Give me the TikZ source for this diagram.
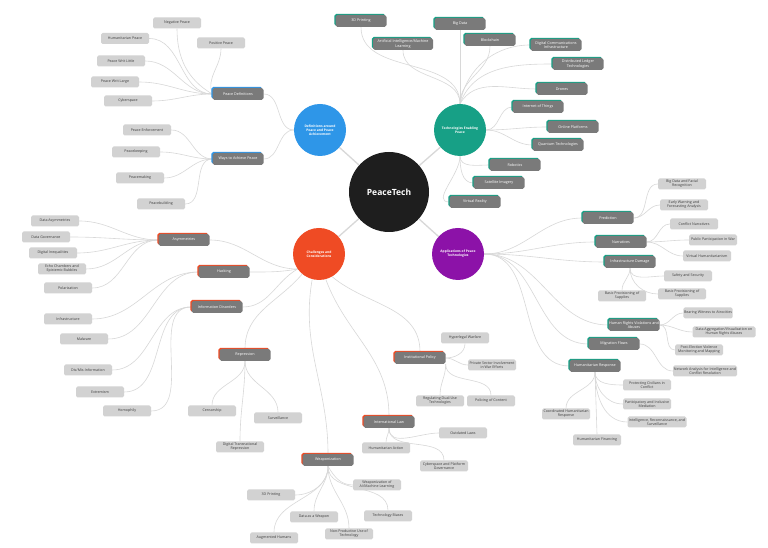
\documentclass[tikz,border=0pt]{standalone}
\usepackage{fontspec}
\setmainfont{Open Sans}
\usetikzlibrary{shadows,backgrounds}
\definecolor{lbox}{HTML}{D2D2D2}
\definecolor{dbox}{HTML}{7A7A7A}
\definecolor{ltxt}{HTML}{3C3C3C}
\definecolor{conn}{HTML}{D8D8D8}
\definecolor{cblue}{HTML}{2E96E8}
\definecolor{cgreen}{HTML}{17A086}
\definecolor{cred}{HTML}{EF4B24}
\definecolor{cpurple}{HTML}{8C12A8}
\definecolor{cblack}{HTML}{1E1E1E}
\tikzset{
 lite/.style={rectangle, rounded corners=1.6pt, fill=lbox, text=ltxt, minimum width=48pt, minimum height=11pt, inner sep=0.6pt, align=center, font=\fontsize{3.6}{4.1}\selectfont},
 darkbox/.style={rectangle, rounded corners=1.8pt, fill=dbox, text=white, minimum width=51pt, minimum height=12pt, inner sep=0.6pt, align=center, font=\fontsize{3.7}{4.2}\selectfont, general shadow={fill=#1, shadow xshift=-1.1pt, shadow yshift=1.1pt}},
 hub/.style={circle, fill=#1, text=white, minimum size=52pt, inner sep=0pt, align=center, font=\bfseries\fontsize{3.3}{4.0}\selectfont},
 lnk/.style={draw=conn, line width=0.6pt},
 trunk/.style={draw=conn, line width=1.3pt},
}
\begin{document}
\begin{tikzpicture}[x=1pt,y=1pt]
\begin{scope}[on background layer]
\fill[white] (0,0) rectangle (768,548);
\end{scope}
\useasboundingbox (0,0) rectangle (768,548);
% hubs
\node[circle, fill=cblack, text=white, minimum size=80pt, inner sep=0pt, font=\bfseries\fontsize{8.5}{10}\selectfont] (pt) at (389,356) {PeaceTech};
\node[hub=cblue] (blue) at (320,418) {Definitions around\\Peace and Peace\\Achievement};
\node[hub=cgreen] (green) at (460,418) {Technologies Enabling\\Peace};
\node[hub=cred] (red) at (319,294) {Challenges and\\Considerations};
\node[hub=cpurple] (purple) at (458,294) {Applications of Peace\\Technologies};
% blue branch
\node[darkbox=cblue] (pdef) at (238,454) {Peace Definitions};
\node[darkbox=cblue] (ways) at (238,389) {Ways to Achieve Peace};
\node[lite] (negp) at (177,525) {Negative Peace};
\node[lite] (hump) at (125,509.5) {Humanitarian Peace};
\node[lite] (posp) at (221,505) {Positive Peace};
\node[lite] (pwl) at (121,487) {Peace Writ Little};
\node[lite] (pwlarge) at (115,466) {Peace Writ Large};
\node[lite] (cyber) at (128,447) {Cyberspace};
\node[lite] (penf) at (147,418) {Peace Enforcement};
\node[lite] (pkeep) at (136,396) {Peacekeeping};
\node[lite] (pmake) at (140,370) {Peacemaking};
\node[lite] (pbuild) at (161,344) {Peacebuilding};
% green branch
\node[darkbox=cgreen] (g3d) at (361,527) {3D Printing};
\node[darkbox=cgreen, minimum width=60pt] (gai) at (403,504) {Artificial Intelligence/Machine\\Learning};
\node[darkbox=cgreen] (gbig) at (460,524) {Big Data};
\node[darkbox=cgreen] (gblock) at (490,508) {Blockchain};
\node[darkbox=cgreen] (gdci) at (556,503) {Digital Communications\\Infrastructure};
\node[darkbox=cgreen] (gdlt) at (578,484) {Distributed Ledger\\Technologies};
\node[darkbox=cgreen] (gdrone) at (562,459) {Drones};
\node[darkbox=cgreen] (giot) at (538,441) {Internet of Things};
\node[darkbox=cgreen] (gonline) at (573,421) {Online Platforms};
\node[darkbox=cgreen] (gquant) at (558,403) {Quantum Technologies};
\node[darkbox=cgreen] (grobot) at (515,383) {Robotics};
\node[darkbox=cgreen] (gsat) at (499,365) {Satellite Imagery};
\node[darkbox=cgreen] (gvr) at (475,346) {Virtual Reality};
% red branch
\node[darkbox=cred] (asym) at (184,308) {Asymmetries};
\node[darkbox=cred] (hack) at (224,276) {Hacking};
\node[darkbox=cred] (infod) at (217,241) {Information Disorders};
\node[darkbox=cred] (repr) at (245,193) {Repression};
\node[darkbox=cred] (inst) at (420,190) {Institutional Policy};
\node[darkbox=cred] (intl) at (389,126) {International Law};
\node[darkbox=cred] (weap) at (328,88) {Weaponization};
\node[lite] (dasym) at (55,327) {Data Asymmetries};
\node[lite] (dgov) at (46,311) {Data Governance};
\node[lite] (dineq) at (53,295) {Digital Inequalities};
\node[lite] (echo) at (62,279) {Echo Chambers and\\Epistemic Bubbles};
\node[lite] (polar) at (68,260) {Polarization};
\node[lite] (infra) at (68,229) {Infrastructure};
\node[lite] (malw) at (84,209) {Malware};
\node[lite] (dismis) at (88,178) {Dis/Mis-Information};
\node[lite] (extr) at (100,156) {Extremism};
\node[lite] (homo) at (127,137) {Homophily};
\node[lite] (cens) at (212,137) {Censorship};
\node[lite] (surv) at (278,130) {Surveillance};
\node[lite] (dtr) at (240,101) {Digital Transnational\\Repression};
\node[lite] (hyper) at (465,210) {Hyperlegal Warfare};
\node[lite] (priv) at (492,183) {Private Sector Involvement\\in War Efforts};
\node[lite] (regul) at (440,147) {Regulating Dual-Use\\Technologies};
\node[lite] (polic) at (491,147) {Policing of Content};
\node[lite] (outd) at (463,115) {Outdated Laws};
\node[lite] (humact) at (386,100) {Humanitarian Action};
\node[lite] (cyberg) at (444,82) {Cyberspace and Platform\\Governance};
\node[lite] (w3d) at (271,53) {3D Printing};
\node[lite] (wai) at (377,63) {Weaponization of\\AI/Machine Learning};
\node[lite] (wdata) at (314,31) {Data as a Weapon};
\node[lite] (wbias) at (388,32) {Technology Biases};
\node[lite] (waug) at (274,10) {Augmented Humans};
\node[lite] (wnon) at (349,14) {Non-Productive Use of\\Technology};
% purple branch
\node[darkbox=cgreen] (pred) at (608,330) {Prediction};
\node[darkbox=cgreen] (narr) at (621,306) {Narratives};
\node[darkbox=cgreen] (infd) at (630,286) {Infrastructure Damage};
\node[darkbox=cgreen] (hrv) at (634,223) {Human Rights Violations and\\Abuses};
\node[darkbox=cgreen] (migr) at (614,204) {Migration Flows};
\node[darkbox=cgreen] (hresp) at (595,182) {Humanitarian Response};
\node[lite] (bdfr) at (682,364) {Big Data and Facial\\Recognition};
\node[lite] (ewfa) at (684,343) {Early Warning and\\Forecasting Analysis};
\node[lite] (confn) at (694,324) {Conflict Narratives};
\node[lite] (pubp) at (713,308) {Public Participation in War};
\node[lite] (virth) at (707,292) {Virtual Humanitarianism};
\node[lite] (safe) at (688,272) {Safety and Security};
\node[lite] (bpr) at (682,254) {Basic Provisioning of\\Supplies};
\node[lite] (bpl) at (622,252) {Basic Provisioning of\\Supplies};
\node[lite] (bear) at (708,235) {Bearing Witness to Atrocities};
\node[lite, minimum width=63pt] (dagg) at (724,216) {Data Aggregation/Visualization on\\Human Rights Abuses};
\node[lite] (post) at (699,198) {Post-Election Violence\\Monitoring and Mapping};
\node[lite, minimum width=64pt] (netw) at (705,177) {Network Analysis for Intelligence and\\Conflict Resolution};
\node[lite] (prot) at (647,163) {Protecting Civilians in\\Conflict};
\node[lite] (parti) at (647,144) {Participatory and Inclusive\\Mediation};
\node[lite, minimum width=59pt] (intel) at (657,126) {Intelligence, Reconnaissance, and\\Surveillance};
\node[lite] (coord) at (566,134) {Coordinated Humanitarian\\Response};
\node[lite] (hfin) at (597,108) {Humanitarian Financing};
% connectors
\begin{scope}[on background layer]
\draw[trunk] (pt) -- (blue);
\draw[trunk] (pt) -- (green);
\draw[trunk] (pt) -- (red);
\draw[trunk] (pt) -- (purple);
% blue
\draw[lnk] (blue.west) to[out=180,in=0] (pdef.east);
\draw[lnk] (blue.west) to[out=180,in=0] (ways.east);
\foreach \n in {hump,pwl,pwlarge,cyber} \draw[lnk] (pdef.west) to[out=180,in=0] (\n.east);
\draw[lnk] (pdef.west) to[out=150,in=-90] (negp.south);
\draw[lnk] (pdef.west) to[out=110,in=-90] (posp.south);
\foreach \n in {penf,pkeep,pmake,pbuild} \draw[lnk] (ways.west) to[out=180,in=0] (\n.east);
% green
\foreach \n in {g3d,gai,gblock} \draw[lnk] (green.north) to[out=90,in=-90] (\n.south);
\draw[lnk] (green.north) -- (gbig.south);
\draw[lnk] (green.north) to[out=80,in=180] (gdci.west);
\draw[lnk] (green.north) to[out=70,in=180] (gdlt.west);
\draw[lnk] (green.north) to[out=60,in=180] (gdrone.west);
\foreach \n in {giot,gonline,gquant} \draw[lnk] (green.east) to[out=0,in=180] (\n.west);
\foreach \n in {grobot,gsat,gvr} \draw[lnk] (green.south) to[out=-90,in=180] (\n.west);
% red
\draw[lnk] (red.215) to[out=180,in=0] (asym.east);
\draw[lnk] (red.215) to[out=190,in=0] (hack.east);
\draw[lnk] (red.215) to[out=210,in=0] (infod.east);
\draw[lnk] (red.230) to[out=230,in=90] (repr.north);
\draw[lnk] (red.255) to[out=260,in=90] (weap.north);
\draw[lnk] (red.285) to[out=-70,in=90] (intl.north);
\draw[lnk] (red.300) to[out=-40,in=90] (inst.north);
\foreach \n in {dasym,dgov,dineq,echo,polar} \draw[lnk] (asym.west) to[out=180,in=0] (\n.east);
\foreach \n in {infra,malw} \draw[lnk] (hack.west) to[out=180,in=0] (\n.east);
\foreach \n in {dismis,extr,homo} \draw[lnk] (infod.west) to[out=180,in=0] (\n.east);
\foreach \n in {cens,surv,dtr} \draw[lnk] (repr.south) to[out=-90,in=90] (\n.north);
\draw[lnk] (inst.east) to[out=0,in=-90] (hyper.south);
\draw[lnk] (inst.east) to[out=0,in=180] (priv.west);
\foreach \n in {regul,polic} \draw[lnk] (inst.south east) to[out=-90,in=90] (\n.north);
\draw[lnk] (intl.south) to[out=-90,in=180] (outd.west);
\foreach \n in {humact,cyberg} \draw[lnk] (intl.south) to[out=-90,in=90] (\n.north);
\draw[lnk] (weap.south) to[out=-90,in=0] (w3d.east);
\foreach \n in {wdata,waug,wnon,wbias} \draw[lnk] (weap.south) to[out=-90,in=90] (\n.north);
\draw[lnk] (weap.south) to[out=-60,in=180] (wai.west);
% purple
\foreach \n in {pred,narr,infd,hrv,migr,hresp} \draw[lnk] (purple.east) to[out=0,in=180] (\n.west);
\foreach \n in {bdfr,ewfa} \draw[lnk] (pred.east) to[out=0,in=180] (\n.west);
\foreach \n in {confn,pubp,virth} \draw[lnk] (narr.east) to[out=0,in=180] (\n.west);
\foreach \n in {safe,bpr} \draw[lnk] (infd.south) to[out=-90,in=180] (\n.west);
\draw[lnk] (infd.south) to[out=-90,in=90] (bpl.north);
\foreach \n in {bear,dagg,post} \draw[lnk] (hrv.east) to[out=0,in=180] (\n.west);
\draw[lnk] (migr.east) to[out=0,in=180] (netw.west);
\foreach \n in {prot,parti,intel} \draw[lnk] (hresp.south) to[out=-90,in=180] (\n.west);
\draw[lnk] (hresp.south) -- (hfin.north);
\draw[lnk] (hresp.south) to[out=-90,in=90] (coord.north);
\end{scope}
\end{tikzpicture}
\end{document}
